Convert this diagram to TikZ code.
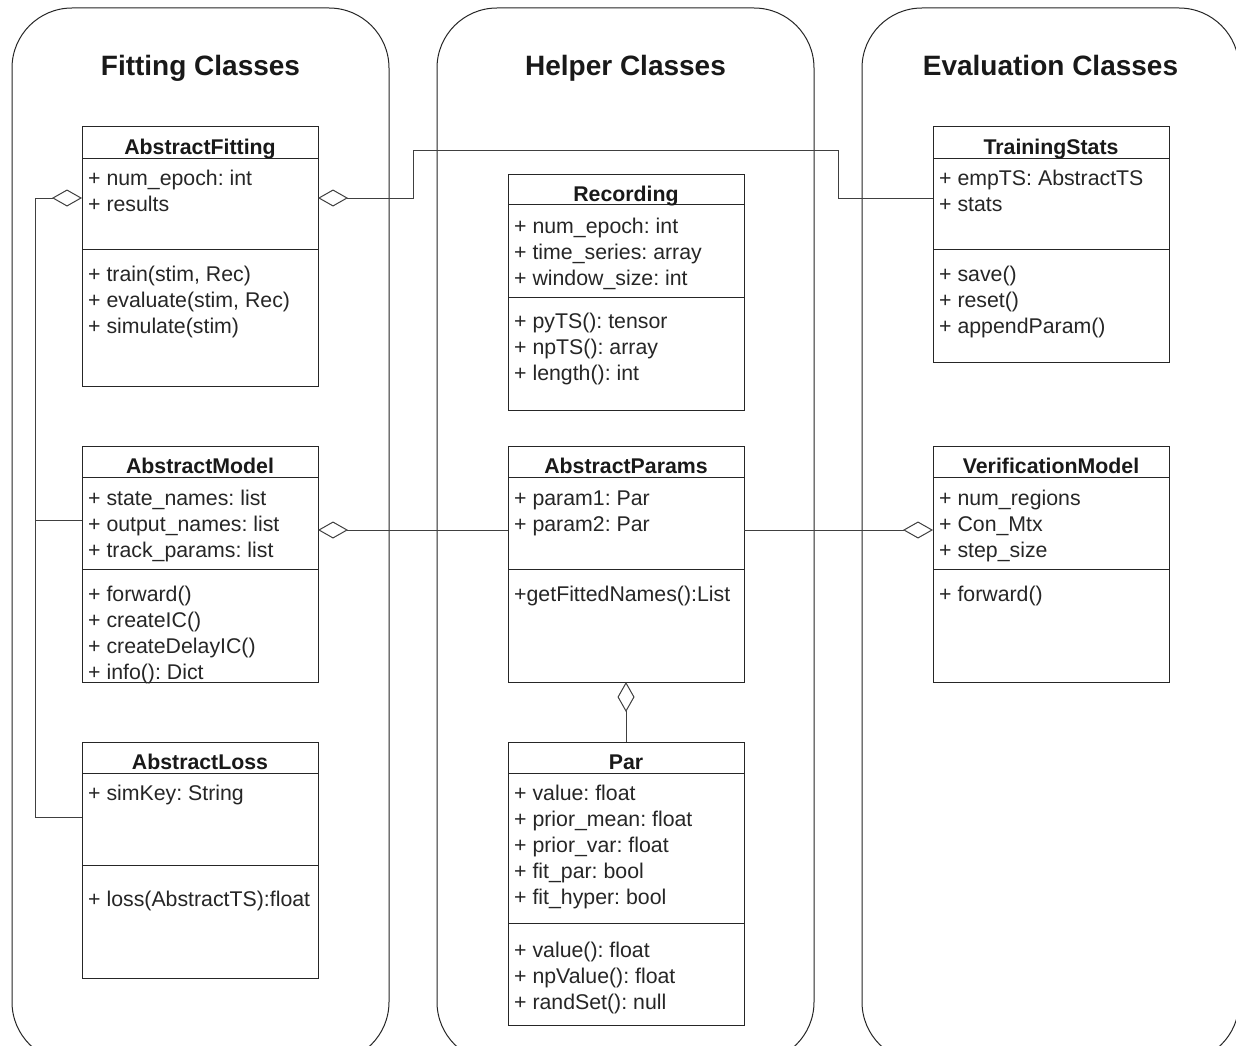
\documentclass[tikz,border=0pt]{standalone}
\usepackage{fontspec}
\setmainfont{Liberation Sans}
\usetikzlibrary{arrows.meta}
\frenchspacing

% class box: id, left, right, top, header line, separator line, bottom, title
\newcommand\umlclass[8]{%
  \node[classbox, minimum width={#3-#2}, minimum height={#7-#4}] (#1) at ({(#2+#3)/2},{(#4+#7)/2}) {};
  \draw[classline] (#2,#5) -- (#3,#5) (#2,#6) -- (#3,#6);
  \node[classname] (#1-title) at ({(#2+#3)/2},{#5-3.5}) {#8};
}
% member lines: id, left, first baseline, list of entries
\newcommand\umlmembers[4]{%
  \foreach \t [count=\i from 0] in {#4}
    \node[member] (#1-\i) at ({#2+6},{#3+26*\i}) {\t};
}

\begin{document}
\begin{tikzpicture}[x=1pt,y=-1pt,
  lane/.style={draw=black!85, line width=1pt, rounded corners=60pt},
  lanetitle/.style={font=\fontsize{28}{32}\selectfont\bfseries, inner sep=0pt, anchor=base, text=black!90},
  classbox/.style={draw=black!85, line width=1pt, fill=white, inner sep=0pt, outer sep=0pt},
  classline/.style={draw=black!85, line width=1pt},
  classname/.style={font=\fontsize{21.3}{26}\selectfont\bfseries, inner sep=0pt, anchor=base, text=black!90},
  member/.style={font=\fontsize{21.3}{26}\selectfont, inner sep=0pt, anchor=base west, text=black!85},
  link/.style={draw=black!75, line width=1pt},
  agg/.style={{Diamond[open,length=30pt,width=17pt]}-}
]
\useasboundingbox (0,0) rectangle (1236,1046);
\clip (0,0) rectangle (1236,1046);
\fill[white] (0,0) rectangle (1236,1046);

% swimlanes
\draw[lane] (12,8) rectangle (389,1062);
\draw[lane] (437,8) rectangle (814,1062);
\draw[lane] (862,8) rectangle (1239,1062);
\node[lanetitle] (t1) at (200.5,76) {Fitting Classes};
\node[lanetitle] (t2) at (625.5,76) {Helper Classes};
\node[lanetitle] (t3) at (1050.5,76) {Evaluation Classes};

% fitting classes
\umlclass{fitting}{82}{318}{127}{158}{249}{386}{AbstractFitting}
\umlmembers{fitting-a}{82}{185}{+ num\_epoch: int, + results}
\umlmembers{fitting-m}{82}{281}{{+ train(stim, Rec)}, {+ evaluate(stim, Rec)}, + simulate(stim)}

\umlclass{model}{82}{318}{446.5}{477}{569}{682}{AbstractModel}
\umlmembers{model-a}{82}{505}{+ state\_names: list, + output\_names: list, + track\_params: list}
\umlmembers{model-m}{82}{601}{+ forward(), + createIC(), + createDelayIC(), + info(): Dict}

\umlclass{loss}{82}{318}{742}{773}{865}{978}{AbstractLoss}
\umlmembers{loss-a}{82}{800}{+ simKey: String}
\umlmembers{loss-m}{82}{906}{+ loss(AbstractTS):float}

% helper classes
\umlclass{recording}{508}{744}{174}{204.5}{297}{410}{Recording}
\umlmembers{recording-a}{508}{233}{+ num\_epoch: int, + time\_series: array, + window\_size: int}
\umlmembers{recording-m}{508}{328}{+ pyTS(): tensor, + npTS(): array, + length(): int}

\umlclass{params}{508}{744}{446.5}{477}{569}{682}{AbstractParams}
\umlmembers{params-a}{508}{505}{+ param1: Par, + param2: Par}
\umlmembers{params-m}{508}{601}{+getFittedNames():List}

\umlclass{par}{508}{744}{742}{773}{923}{1025}{Par}
\umlmembers{par-a}{508}{800}{+ value: float, + prior\_mean: float, + prior\_var: float, + fit\_par: bool, + fit\_hyper: bool}
\umlmembers{par-m}{508}{957}{+ value(): float, + npValue(): float, + randSet(): null}

% evaluation classes
\umlclass{stats}{933}{1169}{127}{158}{249}{362}{TrainingStats}
\umlmembers{stats-a}{933}{185}{+ empTS: AbstractTS, + stats}
\umlmembers{stats-m}{933}{281}{+ save(), + reset(), + appendParam()}

\umlclass{verif}{933}{1169}{446.5}{477}{569}{682}{VerificationModel}
\umlmembers{verif-a}{933}{505}{+ num\_regions, + Con\_Mtx, + step\_size}
\umlmembers{verif-m}{933}{601}{+ forward()}

% reference levels and bends for the connectors
\coordinate (r198) at (0,198);
\coordinate (r530) at (0,530);
\coordinate (r520) at (0,520);
\coordinate (r817) at (0,817);
\coordinate (busTop) at (35,198);
\coordinate (busMid) at (35,520);
\coordinate (busBot) at (35,817);
\coordinate (hopA) at (413,198);
\coordinate (hopB) at (413,150);
\coordinate (hopC) at (838,150);
\coordinate (hopD) at (838,198);

% aggregations
\draw[link, agg] (fitting.west |- r198) -- (busTop) -- (busBot) -- (loss.west |- r817);
\draw[link] (busMid) -- (model.west |- r520);
\draw[link, agg] (fitting.east |- r198) -- (hopA) -- (hopB) -- (hopC) -- (hopD) -- (stats.west |- r198);
\draw[link, agg] (model.east |- r530) -- (params.west |- r530);
\draw[link, agg] (verif.west |- r530) -- (params.east |- r530);
\draw[link, agg] (params.south) -- (par.north);
\end{tikzpicture}
\end{document}
